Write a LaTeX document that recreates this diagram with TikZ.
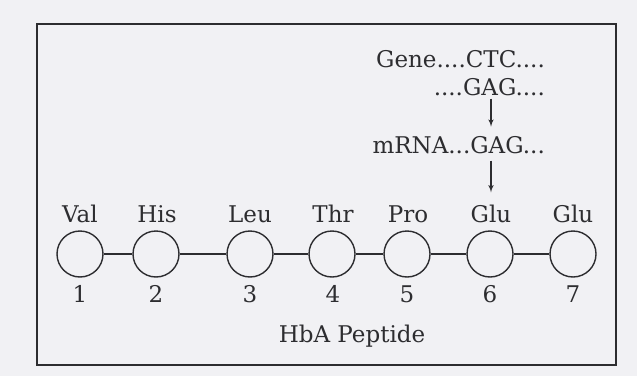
\documentclass[tikz,border=0pt]{standalone}
\usepackage{fontspec}
\setmainfont{DejaVu Serif}
\usepackage{tikz}
\usetikzlibrary{arrows,positioning}
\definecolor{scan}{RGB}{241,241,244}
\definecolor{ink}{RGB}{45,45,48}

\begin{document}
\begin{tikzpicture}[>=latex',
	res/.style={circle,draw=ink,line width=1.4bp,minimum size=46bp,inner sep=0pt},
	txt/.style={text=ink,inner sep=0pt,font=\fontsize{23bp}{27bp}\selectfont},
	lbl/.style={txt,anchor=base}]
	\fill [scan] (0bp,0bp) rectangle (637bp,-376bp);
	\useasboundingbox (0bp,0bp) rectangle (637bp,-376bp);
	\draw [ink,line width=1.8bp] (37bp,-24bp) rectangle (616bp,-365bp);

	\node (r1) at (80bp,-254bp)  [res] {};
	\node (r2) at (156bp,-254bp) [res] {};
	\node (r3) at (250bp,-254bp) [res] {};
	\node (r4) at (332bp,-254bp) [res] {};
	\node (r5) at (407bp,-254bp) [res] {};
	\node (r6) at (490bp,-254bp) [res] {};
	\node (r7) at (573bp,-254bp) [res] {};

	\node (Val)  at (80bp,-222bp)  [lbl] {Val};
	\node (His)  at (157bp,-222bp) [lbl] {His};
	\node (Leu)  at (250bp,-222bp) [lbl] {Leu};
	\node (Thr)  at (333bp,-222bp) [lbl] {Thr};
	\node (Pro)  at (408bp,-222bp) [lbl] {Pro};
	\node (Glu6) at (491bp,-222bp) [lbl] {Glu};
	\node (Glu7) at (573bp,-222bp) [lbl] {Glu};

	\node (n1) at (80bp,-302bp)  [lbl] {1};
	\node (n2) at (156bp,-302bp) [lbl] {2};
	\node (n3) at (250bp,-302bp) [lbl] {3};
	\node (n4) at (333bp,-302bp) [lbl] {4};
	\node (n5) at (407bp,-302bp) [lbl] {5};
	\node (n6) at (490bp,-302bp) [lbl] {6};
	\node (n7) at (573bp,-302bp) [lbl] {7};

	\node (hba)  at (352bp,-342bp) [lbl] {HbA Peptide};
	\node (gene) at (545bp,-67bp)  [txt,anchor=base east] {Gene....CTC....};
	\node (dna2) at (545bp,-95bp)  [txt,anchor=base east] {....GAG....};
	\node (mrna) at (545bp,-153bp) [txt,anchor=base east] {mRNA...GAG...};

	\draw [ink,line width=1.3bp] (r1) -- (r2);
	\draw [ink,line width=1.3bp] (r2) -- (r3);
	\draw [ink,line width=1.3bp] (r3) -- (r4);
	\draw [ink,line width=1.3bp] (r4) -- (r5);
	\draw [ink,line width=1.3bp] (r5) -- (r6);
	\draw [ink,line width=1.3bp] (r6) -- (r7);

	\draw [->,ink,line width=1.5bp,shorten <=3bp,shorten >=9bp] (dna2.south -| Glu6) -- (mrna.north -| Glu6);
	\draw [->,ink,line width=1.5bp,shorten <=7bp,shorten >=12bp] (mrna.south -| Glu6) -- (Glu6.north);
\end{tikzpicture}
\end{document}
